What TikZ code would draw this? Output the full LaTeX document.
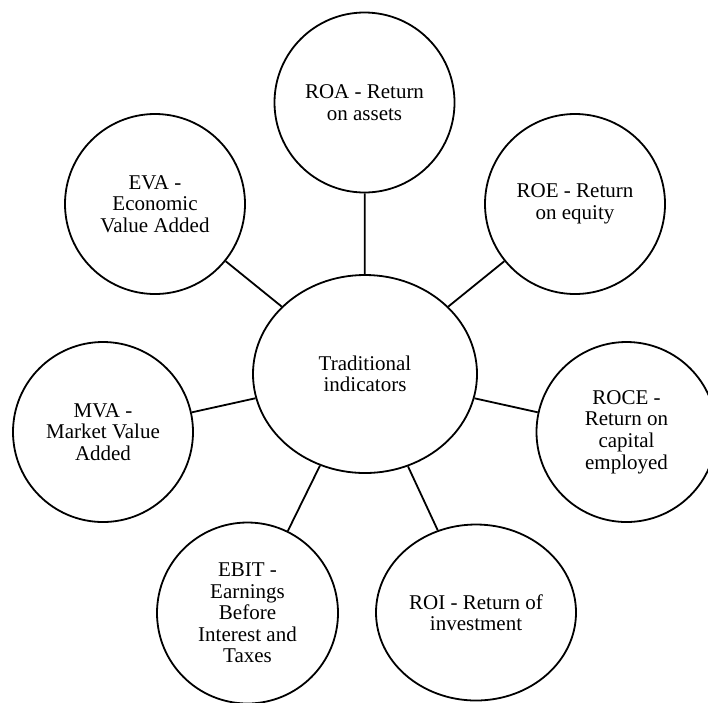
\documentclass[tikz,border=0pt]{standalone}
\usepackage{fontspec}
\setmainfont{Liberation Serif}
\usetikzlibrary{shapes.geometric}
\begin{document}
\begin{tikzpicture}[x=1pt,y=-1pt,
  every node/.style={font=\fontsize{21}{21.6}\selectfont, align=center, inner sep=0pt},
  bubble/.style={draw, line width=1.8pt, circle, minimum size=180pt},
  oval/.style={draw, line width=1.8pt, ellipse},
  link/.style={line width=1.8pt}]
\useasboundingbox[fill=white] (0,0) rectangle (708,702);
\node[oval, minimum width=224pt, minimum height=198pt] (c) at (365,374) {Traditional\\indicators};
\node[bubble] (roa) at (364.5,102.5) {ROA - Return\\on assets};
\node[bubble] (roe) at (575,204) {ROE - Return\\on equity};
\node[bubble] (roce) at (626.5,432) {ROCE -\\Return on\\capital\\employed};
\node[oval, minimum width=200pt, minimum height=176pt] (roi) at (476,612.5) {ROI - Return of\\investment};
\node[bubble, minimum size=181pt] (ebit) at (247.5,613) {EBIT -\\Earnings\\Before\\Interest and\\Taxes};
\node[bubble] (mva) at (103,432) {MVA -\\Market Value\\Added};
\node[bubble] (eva) at (155,204) {EVA -\\Economic\\Value Added};
\foreach \n in {roa,roe,roce,roi,ebit,mva,eva}
  \draw[link] (c) -- (\n);
\end{tikzpicture}
\end{document}
